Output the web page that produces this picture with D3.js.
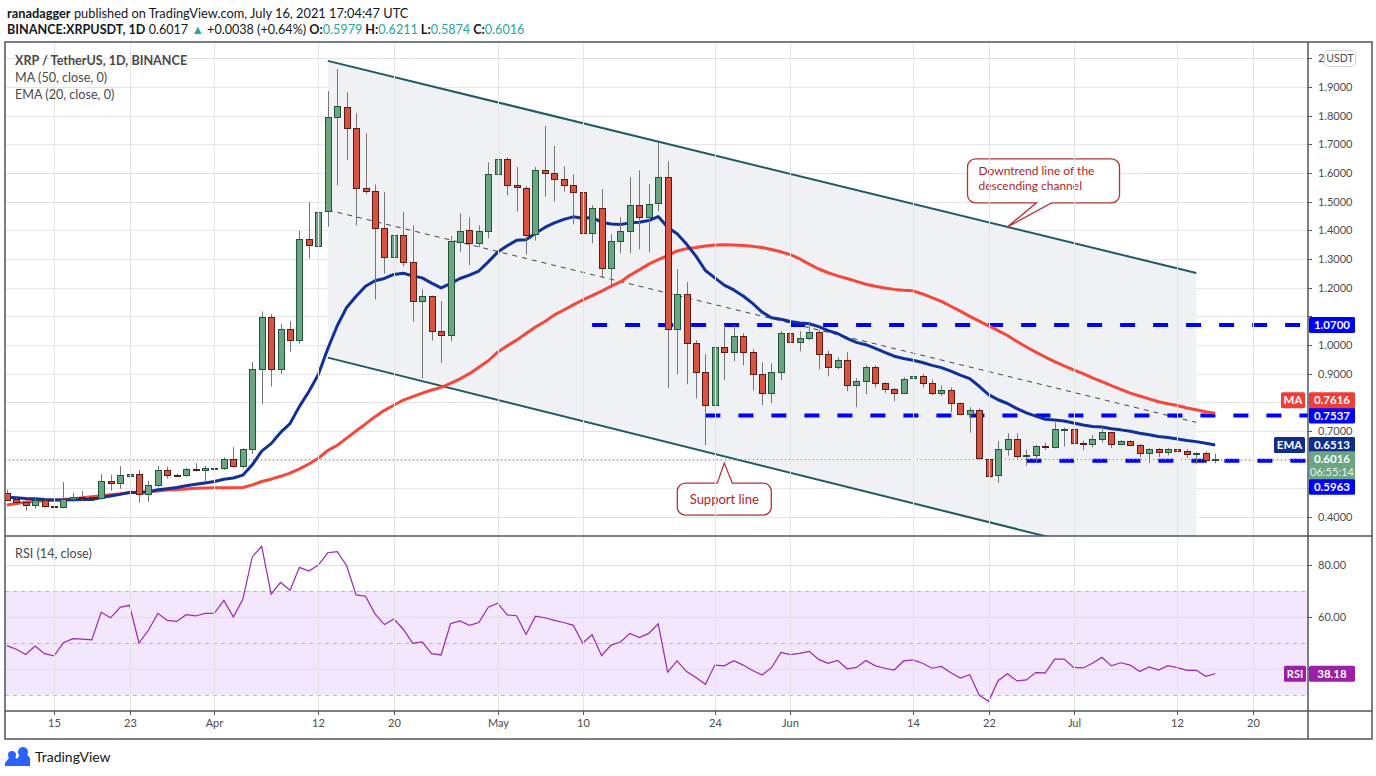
<!DOCTYPE html>
<html>
<head>
<meta charset="utf-8">
<script src="https://cdn.jsdelivr.net/npm/d3@7"></script>
<style>
  body { margin: 0; background: #fff; }
  svg { display: block; font-family: Lato, "Open Sans", sans-serif; }
</style>
</head>
<body>
<svg id="chart" width="1376" height="776"></svg>
<script>
// daily XRP/USDT candles, first one is 2021-03-10
const startDay = "2021-03-10";
const opens = [0.485,0.462,0.451,0.441,0.458,0.437,0.434,0.462,0.470,0.469,
  0.466,0.525,0.517,0.542,0.550,0.479,0.511,0.563,0.546,0.545,
  0.566,0.563,0.570,0.570,0.603,0.577,0.636,0.915,1.097,0.915,
  1.055,1.015,1.369,1.348,1.467,1.794,1.829,1.756,1.547,1.536,
  1.407,1.306,1.383,1.288,1.152,1.170,1.048,1.034,1.362,1.400,
  1.355,1.397,1.595,1.648,1.557,1.549,1.386,1.609,1.599,1.578,
  1.557,1.533,1.390,1.477,1.268,1.362,1.397,1.487,1.445,1.494,
  1.585,1.055,1.177,1.006,0.905,0.790,0.992,0.975,1.030,0.975,
  0.898,0.832,0.905,1.041,1.009,1.023,1.044,0.968,0.922,0.947,
  0.859,0.873,0.922,0.866,0.845,0.832,0.884,0.891,0.866,0.832,
  0.842,0.797,0.758,0.772,0.603,0.545,0.636,0.671,0.612,0.615,
  0.647,0.642,0.706,0.706,0.658,0.654,0.671,0.695,0.654,0.664,
  0.650,0.622,0.636,0.626,0.636,0.629,0.619,0.622,0.5979];
const highs = [0.495,0.467,0.457,0.466,0.463,0.441,0.522,0.485,0.490,0.472,
  0.550,0.547,0.578,0.598,0.564,0.526,0.578,0.576,0.552,0.571,
  0.587,0.578,0.594,0.608,0.644,0.640,0.941,1.117,1.108,1.073,
  1.084,1.398,1.499,1.473,1.886,1.962,1.881,1.808,1.739,1.560,
  1.534,1.445,1.464,1.417,1.194,1.172,1.152,1.380,1.459,1.445,
  1.417,1.637,1.666,1.655,1.621,1.555,1.621,1.764,1.694,1.624,
  1.596,1.624,1.487,1.543,1.386,1.445,1.585,1.609,1.561,1.705,
  1.641,1.264,1.219,1.016,0.968,0.995,1.069,1.069,1.041,0.985,
  0.940,0.936,1.048,1.097,1.048,1.076,1.052,0.980,0.957,0.975,
  0.884,0.929,0.929,0.870,0.850,0.887,0.929,0.900,0.880,0.859,
  0.852,0.800,0.783,0.779,0.650,0.665,0.692,0.692,0.634,0.651,
  0.659,0.730,0.712,0.712,0.666,0.685,0.716,0.697,0.668,0.668,
  0.654,0.640,0.640,0.640,0.659,0.636,0.626,0.629,0.6211];
const lows = [0.455,0.445,0.422,0.429,0.433,0.422,0.430,0.451,0.459,0.463,
  0.462,0.492,0.499,0.539,0.450,0.453,0.505,0.534,0.541,0.540,
  0.559,0.523,0.552,0.564,0.573,0.570,0.620,0.794,0.855,0.899,
  0.977,1.005,1.302,1.315,1.413,1.556,1.645,1.416,1.526,1.159,
  1.249,1.177,1.274,1.081,0.884,1.015,0.938,1.013,1.325,1.278,
  1.341,1.372,1.517,1.522,1.465,1.316,1.364,1.517,1.500,1.535,
  1.421,1.212,1.355,1.233,1.198,1.320,1.320,1.334,1.323,1.466,
  0.849,0.898,0.863,0.814,0.650,0.750,0.877,0.943,0.929,0.842,
  0.790,0.797,0.877,0.975,0.978,1.016,0.915,0.891,0.915,0.839,
  0.783,0.828,0.852,0.832,0.804,0.830,0.863,0.852,0.825,0.822,
  0.765,0.755,0.694,0.600,0.506,0.520,0.614,0.605,0.579,0.593,
  0.634,0.640,0.646,0.645,0.633,0.643,0.660,0.641,0.650,0.646,
  0.609,0.589,0.610,0.615,0.612,0.606,0.584,0.588,0.5874];
const closes = [0.462,0.451,0.441,0.459,0.437,0.436,0.462,0.469,0.469,0.465,
  0.525,0.517,0.546,0.550,0.479,0.510,0.563,0.545,0.544,0.566,
  0.562,0.570,0.571,0.603,0.577,0.636,0.915,1.097,0.915,1.055,
  1.015,1.369,1.348,1.465,1.794,1.832,1.756,1.547,1.536,1.407,
  1.306,1.383,1.288,1.152,1.170,1.048,1.034,1.362,1.399,1.355,
  1.397,1.595,1.648,1.557,1.549,1.386,1.609,1.599,1.578,1.557,
  1.533,1.390,1.477,1.268,1.362,1.397,1.487,1.445,1.491,1.585,
  1.055,1.177,1.006,0.905,0.790,0.992,0.975,1.030,0.975,0.898,
  0.832,0.905,1.041,1.009,1.023,1.044,0.968,0.922,0.947,0.859,
  0.873,0.922,0.866,0.845,0.832,0.880,0.891,0.866,0.832,0.842,
  0.797,0.758,0.772,0.603,0.545,0.636,0.671,0.612,0.615,0.647,
  0.642,0.706,0.708,0.657,0.654,0.671,0.695,0.654,0.664,0.650,
  0.622,0.636,0.626,0.636,0.629,0.619,0.622,0.599,0.6016];

// EMA 20 and MA 50
const ema20 = [0.469,0.467,0.465,0.464,0.461,0.459,0.459,0.460,0.461,0.461,
  0.468,0.473,0.479,0.486,0.485,0.487,0.495,0.499,0.503,0.509,
  0.514,0.519,0.524,0.532,0.536,0.546,0.582,0.630,0.656,0.695,
  0.726,0.786,0.838,0.897,0.987,1.067,1.131,1.170,1.205,1.224,
  1.232,1.246,1.250,1.241,1.234,1.216,1.199,1.214,1.232,1.244,
  1.258,1.290,1.324,1.346,1.365,1.367,1.390,1.410,1.426,1.438,
  1.447,1.442,1.445,1.428,1.422,1.420,1.426,1.428,1.434,1.448,
  1.411,1.388,1.352,1.310,1.260,1.234,1.209,1.192,1.171,1.145,
  1.115,1.095,1.090,1.082,1.077,1.074,1.064,1.050,1.040,1.023,
  1.009,1.001,0.988,0.974,0.961,0.953,0.947,0.939,0.929,0.921,
  0.909,0.895,0.883,0.856,0.827,0.809,0.796,0.778,0.763,0.752,
  0.741,0.738,0.735,0.728,0.721,0.716,0.714,0.708,0.704,0.699,
  0.692,0.687,0.681,0.677,0.672,0.667,0.663,0.657,0.6513];
const ma50 = [0.442,0.447,0.452,0.455,0.457,0.459,0.461,0.464,0.467,0.471,
  0.474,0.478,0.481,0.485,0.487,0.489,0.491,0.494,0.496,0.498,
  0.500,0.501,0.502,0.502,0.502,0.503,0.512,0.524,0.532,0.542,
  0.553,0.568,0.585,0.605,0.632,0.650,0.675,0.700,0.725,0.750,
  0.772,0.790,0.808,0.820,0.832,0.843,0.852,0.866,0.882,0.900,
  0.922,0.945,0.975,0.997,1.017,1.040,1.063,1.082,1.105,1.122,
  1.140,1.157,1.172,1.188,1.205,1.220,1.243,1.262,1.282,1.298,
  1.312,1.328,1.336,1.340,1.345,1.349,1.350,1.349,1.347,1.344,
  1.340,1.333,1.325,1.315,1.300,1.282,1.265,1.252,1.241,1.232,
  1.222,1.212,1.205,1.199,1.194,1.191,1.189,1.178,1.165,1.152,
  1.135,1.118,1.100,1.083,1.067,1.050,1.033,1.012,0.993,0.975,
  0.958,0.942,0.927,0.913,0.900,0.885,0.872,0.858,0.845,0.832,
  0.822,0.812,0.802,0.795,0.789,0.780,0.774,0.767,0.7616];
const rsi14 = [49.0,47.6,45.6,48.8,45.9,45.1,50.1,51.7,51.5,51.2,
  61.8,59.7,63.7,64.5,50.0,54.9,61.4,58.7,58.3,60.9,
  60.4,61.4,61.5,66.4,60.0,66.8,83.1,87.2,68.8,73.3,
  70.3,79.1,77.7,80.0,84.7,85.1,79.7,68.5,68.0,61.2,
  57.1,59.2,55.3,49.9,50.4,45.9,45.4,57.4,58.5,56.8,
  57.9,63.8,65.3,60.8,60.5,53.3,60.3,59.7,58.7,57.9,
  56.8,50.0,53.2,45.1,49.2,50.4,53.7,52.1,53.7,57.4,
  38.8,43.1,39.0,36.7,34.1,41.5,41.2,43.2,41.5,39.4,
  37.7,40.5,46.4,45.5,46.0,46.8,43.7,42.2,43.3,40.1,
  40.6,43.3,41.2,40.3,39.6,43.1,43.5,42.2,40.3,41.0,
  38.6,36.5,37.8,30.0,27.6,35.5,38.2,35.4,35.8,38.6,
  38.5,43.8,43.8,40.6,40.4,42.2,44.5,41.2,42.4,41.5,
  39.0,40.8,39.6,41.3,40.5,39.5,39.5,37.2,38.18];

const tickDays = ["2021-03-15","2021-03-23","2021-04-01","2021-04-12","2021-04-20","2021-05-01","2021-05-10",
  "2021-05-24","2021-06-01","2021-06-14","2021-06-22","2021-07-01","2021-07-12","2021-07-20"];
const tickLabels = ["15","23","Apr","12","20","May","10","24","Jun","14","22","Jul","12","20"];
const priceTicks = [0.4,0.5,0.6,0.7,0.8,0.9,1.0,1.1,1.2,1.3,1.4,1.5,1.6,1.7,1.8,1.9,2.0];
const rsiGrid = [80, 60, 40];
const rsiDashed = [70, 50, 30];
const rsiTickLabels = [80, 60, 40];

// drawings on the chart
const levelPrices = [1.07, 0.7537, 0.5963];
const levelStarts = ["2021-05-11", "2021-05-23", "2021-06-26"];
const channelDays = ["2021-04-13", "2021-07-14"];
const channelTop = [1.991, 1.251];
const channelBottom = [0.956, 0.202];
const midLine = [1.471, 0.730];

const parse = d3.utcParse("%Y-%m-%d");
const day0 = parse(startDay);
const dates = closes.map((_, i) => d3.utcDay.offset(day0, i));

const L = 5, R = 1308, PT = 42, PB = 536, RB = 711, AB = 739, OR = 1372;

const x = d3.scaleUtc().domain([dates[0], dates[dates.length - 1]]).range([6.8, 1215.2]);
const y = d3.scaleLinear().domain([0.3338, 2.0568]).range([PB, PT]);
const yr = d3.scaleLinear().domain([23.85, 91.15]).range([RB, PB]);

const svg = d3.select("#chart");
const defs = svg.append("defs");
defs.append("clipPath").attr("id", "pclip").append("rect")
  .attr("x", L).attr("y", PT).attr("width", R - L).attr("height", PB - PT);
defs.append("clipPath").attr("id", "rclip").append("rect")
  .attr("x", L).attr("y", PB).attr("width", R - L).attr("height", RB - PB);

const pane = svg.append("g").attr("clip-path", "url(#pclip)");
const rpane = svg.append("g").attr("clip-path", "url(#rclip)");

// grid
const gridCol = "#e5e5e5";
tickDays.forEach(d => {
  const xx = Math.round(x(parse(d))) + 0.5;
  svg.append("line").attr("x1", xx).attr("x2", xx).attr("y1", PT).attr("y2", RB)
    .attr("stroke", gridCol);
});
pane.selectAll("line.hg").data(priceTicks).join("line")
  .attr("x1", L).attr("x2", R)
  .attr("y1", d => Math.round(y(d)) + 0.5).attr("y2", d => Math.round(y(d)) + 0.5)
  .attr("stroke", gridCol);

// descending channel shading
const cx0 = x(parse(channelDays[0])), cx1 = x(parse(channelDays[1]));
pane.append("path")
  .attr("d", `M${cx0},${y(channelTop[0])}L${cx1},${y(channelTop[1])}L${cx1},${y(channelBottom[1])}L${cx0},${y(channelBottom[0])}Z`)
  .attr("fill", "#eff1f4");
pane.append("line").attr("x1", cx0).attr("y1", y(channelTop[0])).attr("x2", cx1).attr("y2", y(channelTop[1]))
  .attr("stroke", "#1f5a60").attr("stroke-width", 2);
pane.append("line").attr("x1", cx0).attr("y1", y(channelBottom[0])).attr("x2", cx1).attr("y2", y(channelBottom[1]))
  .attr("stroke", "#1f5a60").attr("stroke-width", 2);
pane.append("line").attr("x1", cx0).attr("y1", y(midLine[0])).attr("x2", cx1).attr("y2", y(midLine[1]))
  .attr("stroke", "#444").attr("stroke-width", 1).attr("stroke-dasharray", "5,5");

// horizontal levels
levelPrices.forEach((p, i) => {
  pane.append("line").attr("x1", x(parse(levelStarts[i]))).attr("x2", R)
    .attr("y1", y(p)).attr("y2", y(p))
    .attr("stroke", "#0000ff").attr("stroke-width", 4).attr("stroke-dasharray", "15,18");
});

// current price dotted line
const lastY = Math.round(y(closes[closes.length - 1])) + 0.5;
pane.append("line").attr("x1", L).attr("x2", R).attr("y1", lastY).attr("y2", lastY)
  .attr("stroke", "#4e9a7c").attr("stroke-dasharray", "1,3");

// moving averages
const idx = d3.range(closes.length);
pane.append("path").datum(idx)
  .attr("d", d3.line().x(i => x(dates[i])).y(i => y(ma50[i])))
  .attr("fill", "none").attr("stroke", "#f7463a").attr("stroke-width", 3).attr("stroke-linejoin", "round");
pane.append("path").datum(idx)
  .attr("d", d3.line().x(i => x(dates[i])).y(i => y(ema20[i])))
  .attr("fill", "none").attr("stroke", "#11309a").attr("stroke-width", 3).attr("stroke-linejoin", "round");

// candles
const candles = pane.append("g");
candles.selectAll("line").data(idx).join("line")
  .attr("x1", i => Math.round(x(dates[i])) + 0.5).attr("x2", i => Math.round(x(dates[i])) + 0.5)
  .attr("y1", i => y(highs[i])).attr("y2", i => y(lows[i]))
  .attr("stroke", "#767676");
candles.selectAll("rect").data(idx).join("rect")
  .attr("x", i => Math.round(x(dates[i])) - 2.5)
  .attr("width", 6)
  .attr("y", i => Math.round(y(Math.max(opens[i], closes[i]))) + 0.5)
  .attr("height", i => Math.max(1, Math.round(Math.abs(y(opens[i]) - y(closes[i])))))
  .attr("fill", i => closes[i] >= opens[i] ? "#6ba583" : "#d75442")
  .attr("stroke", i => closes[i] >= opens[i] ? "#225437" : "#5b1a13");

// callouts
function callout(bx, by, bw, bh, r, t1, t2, tx, ty, side) {
  if (side === "bottom") {
    return `M${bx + r},${by}H${bx + bw - r}A${r},${r} 0 0 1 ${bx + bw},${by + r}V${by + bh - r}` +
      `A${r},${r} 0 0 1 ${bx + bw - r},${by + bh}H${t2}L${tx},${ty}L${t1},${by + bh}H${bx + r}` +
      `A${r},${r} 0 0 1 ${bx},${by + bh - r}V${by + r}A${r},${r} 0 0 1 ${bx + r},${by}Z`;
  }
  return `M${bx + r},${by}H${t1}L${tx},${ty}L${t2},${by}H${bx + bw - r}A${r},${r} 0 0 1 ${bx + bw},${by + r}V${by + bh - r}` +
    `A${r},${r} 0 0 1 ${bx + bw - r},${by + bh}H${bx + r}` +
    `A${r},${r} 0 0 1 ${bx},${by + bh - r}V${by + r}A${r},${r} 0 0 1 ${bx + r},${by}Z`;
}
const tip1x = x(parse("2021-06-24")), tip1y = y(1.412);
pane.append("path").attr("d", callout(tip1x - 40, tip1y - 68, 152, 44, 8, tip1x + 29, tip1x + 44, tip1x, tip1y, "bottom"))
  .attr("fill", "#fff").attr("stroke", "#b3353b").attr("stroke-width", 1.3);
pane.append("text").attr("x", tip1x - 29).attr("y", tip1y - 51.5).attr("fill", "#b71c1c")
  .attr("font-size", 12).text("Downtrend line of the");
pane.append("text").attr("x", tip1x - 29).attr("y", tip1y - 37).attr("fill", "#b71c1c")
  .attr("font-size", 12).text("descending channel");

const tip2x = x(parse("2021-05-25")), tip2y = y(0.588);
pane.append("path").attr("d", callout(tip2x - 47, tip2y + 20, 94, 32, 8, tip2x - 7, tip2x + 8, tip2x, tip2y, "top"))
  .attr("fill", "#fff").attr("stroke", "#b3353b").attr("stroke-width", 1.3);
pane.append("text").attr("x", tip2x).attr("y", tip2y + 41).attr("fill", "#b71c1c")
  .attr("text-anchor", "middle").attr("font-size", 13).text("Support line");

// RSI pane
rpane.append("rect").attr("x", L).attr("width", R - L)
  .attr("y", yr(70)).attr("height", yr(30) - yr(70)).attr("fill", "#f3e7fd");
rpane.selectAll("line.rg").data(rsiGrid).join("line")
  .attr("x1", L).attr("x2", R)
  .attr("y1", d => Math.round(yr(d)) + 0.5).attr("y2", d => Math.round(yr(d)) + 0.5)
  .attr("stroke", "#e0dbe4");
rpane.selectAll("line.rd").data(rsiDashed).join("line")
  .attr("x1", L).attr("x2", R)
  .attr("y1", d => Math.round(yr(d)) + 0.5).attr("y2", d => Math.round(yr(d)) + 0.5)
  .attr("stroke", "#bdb3c6").attr("stroke-dasharray", "4,4");
rpane.append("path").datum(idx)
  .attr("d", d3.line().x(i => x(dates[i])).y(i => yr(rsi14[i])))
  .attr("fill", "none").attr("stroke", "#9c27b0").attr("stroke-width", 1.2);

// positions of the value boxes on the scale (labels under them are hidden, as on TradingView)
const lastMA = ma50[ma50.length - 1], lastEMA = ema20[ema20.length - 1];
const lastClose = closes[closes.length - 1], lastRSI = rsi14[rsi14.length - 1];
const boxCenters = [y(levelPrices[0]), y(levelPrices[1]), y(lastMA) - 13, y(lastEMA),
  y(lastClose), y(lastClose) + 13, y(levelPrices[2]) + 26];
const freeSpot = yy => boxCenters.every(c => Math.abs(c - yy) >= 13);

// price axis labels
const axisTxt = "#4c4c4c";
const pax = svg.append("g").attr("font-size", 11).attr("fill", axisTxt);
priceTicks.forEach(p => {
  pax.append("line").attr("x1", R).attr("x2", R + 4).attr("y1", Math.round(y(p)) + 0.5).attr("y2", Math.round(y(p)) + 0.5)
    .attr("stroke", "#555");
  if (p === 2.0) {
    // only the first digit peeks out beside the currency badge
    pax.append("text").attr("x", 1318).attr("y", y(p) + 4).text("2");
  } else if (freeSpot(y(p))) {
    pax.append("text").attr("x", 1318).attr("y", y(p) + 4).text(p.toFixed(4));
  }
});
rsiTickLabels.forEach(v => {
  pax.append("line").attr("x1", R).attr("x2", R + 4).attr("y1", Math.round(yr(v)) + 0.5).attr("y2", Math.round(yr(v)) + 0.5)
    .attr("stroke", "#555");
  if (Math.abs(yr(v) - yr(lastRSI)) >= 13) {
    pax.append("text").attr("x", 1318).attr("y", yr(v) + 4).text(v.toFixed(2));
  }
});

// time axis
const tax = svg.append("g").attr("font-size", 11).attr("fill", axisTxt).attr("text-anchor", "middle");
tickDays.forEach((d, i) => {
  const xx = Math.round(x(parse(d))) + 0.5;
  tax.append("line").attr("x1", xx).attr("x2", xx).attr("y1", RB).attr("y2", RB + 4).attr("stroke", "#555");
  tax.append("text").attr("x", xx).attr("y", 727).text(tickLabels[i]);
});

// value boxes on the price scale
function valueBox(cy, txt, col) {
  svg.append("rect").attr("x", R + 1).attr("y", cy - 8).attr("width", 46).attr("height", 16)
    .attr("rx", 1.5).attr("fill", col);
  svg.append("text").attr("x", R + 24).attr("y", cy + 4).attr("text-anchor", "middle")
    .attr("font-size", 11.5).attr("font-weight", "bold").attr("fill", "#fff").text(txt);
}
function tagBox(cy, txt, col, w) {
  svg.append("rect").attr("x", R - 3 - w).attr("y", cy - 8).attr("width", w).attr("height", 16)
    .attr("rx", 1.5).attr("fill", col);
  svg.append("text").attr("x", R - 3 - w / 2).attr("y", cy + 4).attr("text-anchor", "middle")
    .attr("font-size", 11.5).attr("font-weight", "bold").attr("fill", "#fff").text(txt);
}
valueBox(boxCenters[0], levelPrices[0].toFixed(4), "#0000ff");
valueBox(boxCenters[1], levelPrices[1].toFixed(4), "#0000ff");
valueBox(boxCenters[2], lastMA.toFixed(4), "#f23d37");
tagBox(boxCenters[2], "MA", "#f23d37", 24);
valueBox(boxCenters[3], lastEMA.toFixed(4), "#0e2d8c");
tagBox(boxCenters[3], "EMA", "#0e2d8c", 31);
valueBox(boxCenters[6], levelPrices[2].toFixed(4), "#0000ff");
// current price with countdown
const cp = y(lastClose);
svg.append("rect").attr("x", R + 1).attr("y", cp - 8).attr("width", 46).attr("height", 28)
  .attr("rx", 1.5).attr("fill", "#6ba583");
svg.append("text").attr("x", R + 24).attr("y", cp + 4).attr("text-anchor", "middle")
  .attr("font-size", 11.5).attr("font-weight", "bold").attr("fill", "#fff").text(lastClose.toFixed(4));
svg.append("text").attr("x", R + 24).attr("y", cp + 17).attr("text-anchor", "middle")
  .attr("font-size", 11).attr("fill", "#e8f2ec").text("06:55:14");
// RSI value
const rv = yr(lastRSI);
svg.append("rect").attr("x", R + 1).attr("y", rv - 8).attr("width", 46).attr("height", 16).attr("rx", 1.5).attr("fill", "#9c1fa8");
svg.append("text").attr("x", R + 24).attr("y", rv + 4).attr("text-anchor", "middle")
  .attr("font-size", 11.5).attr("font-weight", "bold").attr("fill", "#fff").text(lastRSI.toFixed(2));
svg.append("rect").attr("x", R - 24).attr("y", rv - 8).attr("width", 22).attr("height", 16).attr("rx", 1.5).attr("fill", "#9c1fa8");
svg.append("text").attr("x", R - 13).attr("y", rv + 4).attr("text-anchor", "middle")
  .attr("font-size", 11).attr("font-weight", "bold").attr("fill", "#fff").text("RSI");

// currency badge
svg.append("rect").attr("x", 1324.5).attr("y", 50.5).attr("width", 31).attr("height", 16).attr("rx", 3)
  .attr("fill", "#fff").attr("stroke", "#cfd3da");
svg.append("text").attr("x", 1340).attr("y", 62).attr("text-anchor", "middle")
  .attr("font-size", 10.5).attr("fill", "#4c4c4c").text("USDT");

// frame
const frame = svg.append("g").attr("stroke", "#50535e").attr("stroke-width", 1.5).attr("fill", "none");
frame.append("rect").attr("x", L).attr("y", PT).attr("width", OR - L).attr("height", AB - PT);
frame.append("line").attr("x1", L).attr("x2", OR).attr("y1", PB).attr("y2", PB);
frame.append("line").attr("x1", L).attr("x2", OR).attr("y1", RB).attr("y2", RB);
frame.append("line").attr("x1", R).attr("x2", R).attr("y1", PT).attr("y2", AB);

// header
const h1 = svg.append("text").attr("x", 7).attr("y", 18).attr("font-size", 12.8).attr("fill", "#131722");
h1.append("tspan").attr("font-weight", "bold").text("ranadagger");
h1.append("tspan").text(" published on TradingView.com, July 16, 2021 17:04:47 UTC");
const h2 = svg.append("text").attr("x", 7).attr("y", 34).attr("font-size", 12.6).attr("fill", "#131722");
h2.append("tspan").attr("font-weight", "bold").text("BINANCE:XRPUSDT, 1D");
h2.append("tspan").text(" 0.6017 ");
h2.append("tspan").attr("fill", "#26a69a").text("▲");
h2.append("tspan").text(" +0.0038 (+0.64%) ");
[["O:", "0.5979"], ["H:", "0.6211"], ["L:", "0.5874"], ["C:", "0.6016"]].forEach(([k, v], i) => {
  h2.append("tspan").attr("font-weight", "bold").text((i ? " " : "") + k);
  h2.append("tspan").attr("fill", "#26a69a").text(v);
});

// pane legends
const lg = svg.append("g").attr("font-size", 12.6).attr("fill", "#4a4a4a");
lg.append("text").attr("x", 15).attr("y", 65).attr("font-weight", "bold").text("XRP / TetherUS, 1D, BINANCE");
lg.append("text").attr("x", 15).attr("y", 82).text("MA (50, close, 0)");
lg.append("text").attr("x", 15).attr("y", 99).text("EMA (20, close, 0)");
lg.append("text").attr("x", 15).attr("y", 558).text("RSI (14, close)");

// TradingView mark
const logo = svg.append("g").attr("transform", "translate(5,746)");
logo.append("path").attr("d", "M0,17 L7,8 L12,13 L18,4 L25,12 L25,20 L0,20 Z").attr("fill", "#2962ff");
logo.append("circle").attr("cx", 7).attr("cy", 9).attr("r", 4).attr("fill", "#2962ff");
logo.append("circle").attr("cx", 18).attr("cy", 6).attr("r", 5).attr("fill", "#2962ff");
svg.append("text").attr("x", 35).attr("y", 762).attr("font-size", 14).attr("fill", "#131722").text("TradingView");
</script>
</body>
</html>
